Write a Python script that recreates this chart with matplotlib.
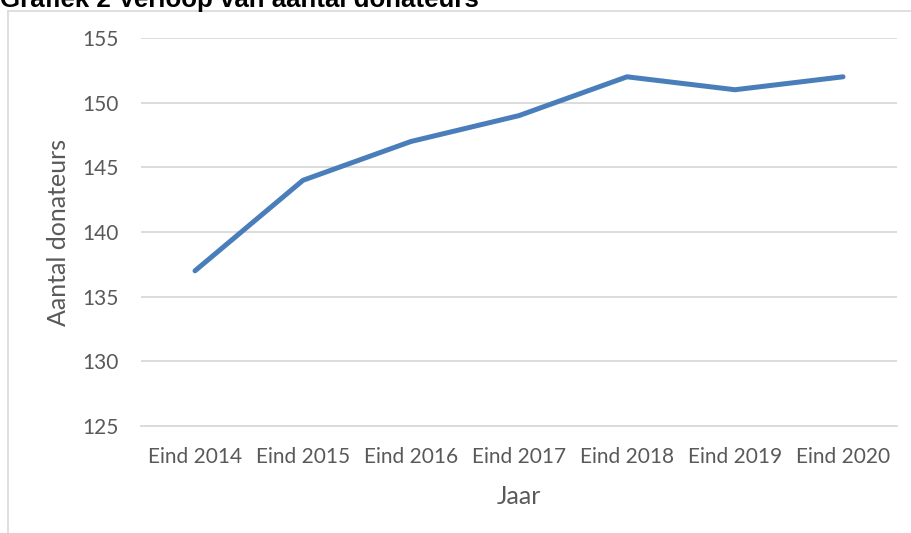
import matplotlib
matplotlib.use("Agg")
import matplotlib.pyplot as plt
from matplotlib.lines import Line2D

categories = ["Eind 2014", "Eind 2015", "Eind 2016", "Eind 2017", "Eind 2018", "Eind 2019", "Eind 2020"]
donateurs = [137, 144, 147, 149, 152, 151, 152]
yticks = [125, 130, 135, 140, 145, 150, 155]

plt.rcParams['font.family'] = ['Lato', 'DejaVu Sans']

W, H = 912, 533
fig = plt.figure(figsize=(W/100, H/100), dpi=100)
ax = fig.add_axes([141/W, 1-426/H, (897-141)/W, (426-38)/H])

x = list(range(len(categories)))
ax.plot(x, donateurs, color='#4a7ebb', lw=3.6, solid_capstyle='round', solid_joinstyle='round', zorder=3)
ax.set_xlim(-0.5, len(categories)-0.5)
ax.set_ylim(125, 155)
ax.set_yticks(yticks)
ax.set_xticks(x)
ax.set_xticklabels(categories)
ax.grid(axis='y', color='#d9d9d9', lw=1.3)
ax.set_axisbelow(True)
for s in ['top', 'right', 'left']:
    ax.spines[s].set_visible(False)
ax.spines['bottom'].set_color('#d9d9d9')
ax.spines['bottom'].set_linewidth(1.3)
ax.tick_params(length=0, labelsize=15, colors='#595959')
ax.tick_params(axis='y', pad=16)
ax.tick_params(axis='x', pad=15)
ax.set_ylabel("Aantal donateurs", fontsize=18, color='#595959')
ax.set_xlabel("Jaar", fontsize=18, color='#595959')
ax.yaxis.set_label_coords((58-141)/(897-141), 0.5)
ax.xaxis.set_label_coords(0.5, (426-497)/(426-38))
ax.yaxis.label.set_va('center')
ax.xaxis.label.set_va('center')

# chart border
fig.add_artist(Line2D([8.5/W, 8.5/W], [0, 1-10.5/H], color='#d9d9d9', lw=1.2))
fig.add_artist(Line2D([8.5/W, 1], [1-10.5/H, 1-10.5/H], color='#d9d9d9', lw=1.2))

fig.text(0, 1-6.5/H, "Grafiek 2 Verloop van aantal donateurs", fontsize=18.6, fontweight='bold',
         family=['Liberation Sans', 'DejaVu Sans'], color='black', va='baseline', ha='left')

fig.savefig("out.png", dpi=100)
